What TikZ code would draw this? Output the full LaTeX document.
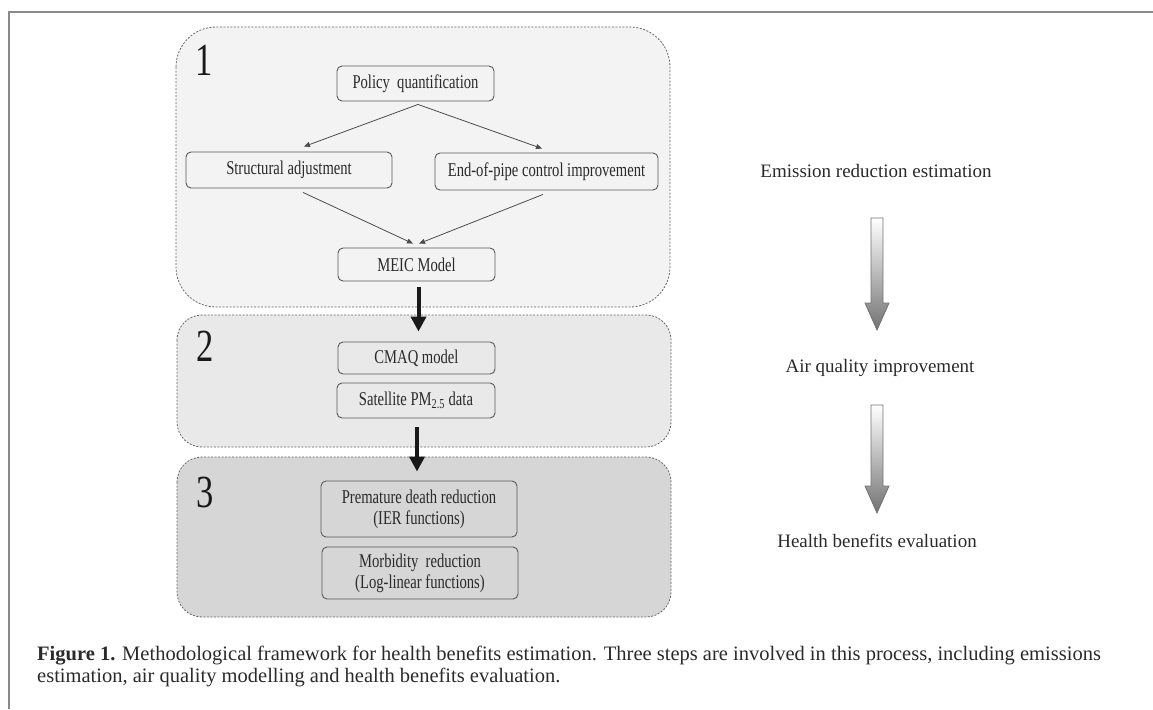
\documentclass[tikz,border=0pt]{standalone}
\usepackage{fontspec}
\setmainfont{Liberation Serif}
\newfontfamily\narrowfont[FakeStretch=0.75]{Liberation Serif}
\usetikzlibrary{arrows.meta}
\definecolor{panelA}{HTML}{F3F3F3}
\definecolor{panelB}{HTML}{E9E9E9}
\definecolor{panelC}{HTML}{D6D6D6}
\definecolor{txt}{HTML}{2A2A2A}
\definecolor{frame}{HTML}{8A8A8A}
\begin{document}
\begin{tikzpicture}[x=1pt,y=-1pt,
	panel/.style={draw=black!60,line width=0.8pt,dash pattern=on 2pt off 1.5pt},
	stepbox/.style={draw=black!65,line width=0.9pt,rounded corners=5pt,inner sep=0pt,
		text=txt,align=center,font=\narrowfont\fontsize{19.5}{21}\selectfont},
	stepno/.style={text=black!90,font=\narrowfont\fontsize{46}{46}\selectfont},
	sidelabel/.style={text=txt,font=\fontsize{19}{22}\selectfont},
	lightarr/.style={draw=black!70,line width=0.8pt,-{Triangle[length=6pt,width=5pt]}},
	heavyarr/.style={draw=black!90,line width=4pt,-{Triangle[length=15pt,width=15pt]}}]
\useasboundingbox (0,0) rectangle (1153,709);
\draw [frame,line width=2pt] (9,709) -- (9,12) -- (1153,12);
% the three steps
\draw [panel,fill=panelA,rounded corners=40pt] (176,27) rectangle (670,307);
\draw [panel,fill=panelB,rounded corners=25pt] (177,315) rectangle (671,447);
\draw [panel,fill=panelC,rounded corners=25pt] (177,457) rectangle (671,617);
\node [stepno] (n1) at (204,60) {1};
\node [stepno] (n2) at (205,346) {2};
\node [stepno] (n3) at (205,492) {3};
\node [stepbox,minimum width=157,minimum height=35] (pq) at (415.5,83.5) {Policy\ \ quantification};
\node [stepbox,minimum width=206,minimum height=36] (sa) at (289,170) {Structural adjustment};
\node [stepbox,minimum width=223,minimum height=37] (ep) at (546.5,171.5) {End-of-pipe control improvement};
\node [stepbox,minimum width=157,minimum height=33] (meic) at (416.5,264.5) {MEIC Model};
\node [stepbox,minimum width=157,minimum height=32] (cmaq) at (416.5,358) {CMAQ model};
\node [stepbox,minimum width=158,minimum height=35] (sat) at (416,400.5) {Satellite PM\textsubscript{2.5} data};
\node [stepbox,minimum width=196,minimum height=56] (pdr) at (419,509) {Premature death reduction\\(IER functions)};
\node [stepbox,minimum width=196,minimum height=52] (mor) at (420,573) {Morbidity\ \ reduction\\(Log-linear functions)};
\draw [lightarr] ([xshift=2.5pt,yshift=-3pt]pq.south) -- ([xshift=15pt,yshift=5pt]sa.north);
\draw [lightarr] ([xshift=2.5pt,yshift=-3pt]pq.south) -- ([xshift=-4.5pt,yshift=4pt]ep.north);
\draw [lightarr] ([xshift=14pt,yshift=-4pt]sa.south) -- ([xshift=-3.5pt,yshift=4pt]meic.north);
\draw [lightarr] ([xshift=-3.5pt,yshift=-4pt]ep.south) -- ([xshift=2.5pt,yshift=4pt]meic.north);
\draw [heavyarr] ([xshift=2pt,yshift=-6pt]meic.south) -- ([xshift=2pt,yshift=10pt]cmaq.north);
\draw [heavyarr] ([xshift=1pt,yshift=-9pt]sat.south) -- ([xshift=-2pt,yshift=9pt]pdr.north);
% right column
\node [sidelabel] (er) at (876,171) {Emission reduction estimation};
\node [sidelabel] (aq) at (880,368) {Air quality improvement};
\node [sidelabel] (hb) at (877,541) {Health benefits evaluation};
\foreach \t/\b in {218/330,405/513}
	\shade [top color=white,bottom color=black!55,draw=black!55,line width=0.8pt]
		(871,\t) -- (883,\t) -- (883,\b-27) -- (889,\b-27) -- (877,\b)
		-- (865,\b-27) -- (871,\b-27) -- cycle;
% caption
\node [anchor=base west,text=txt,font=\fontsize{20.5}{22}\selectfont,inner sep=0pt] (cap1) at (37,660)
	{\textbf{Figure 1.} Methodological framework for health benefits estimation. Three steps are involved in this process, including emissions};
\node [anchor=base west,text=txt,font=\fontsize{20.5}{22}\selectfont,inner sep=0pt] (cap2) at (37,682)
	{estimation, air quality modelling and health benefits evaluation.};
\end{tikzpicture}
\end{document}
